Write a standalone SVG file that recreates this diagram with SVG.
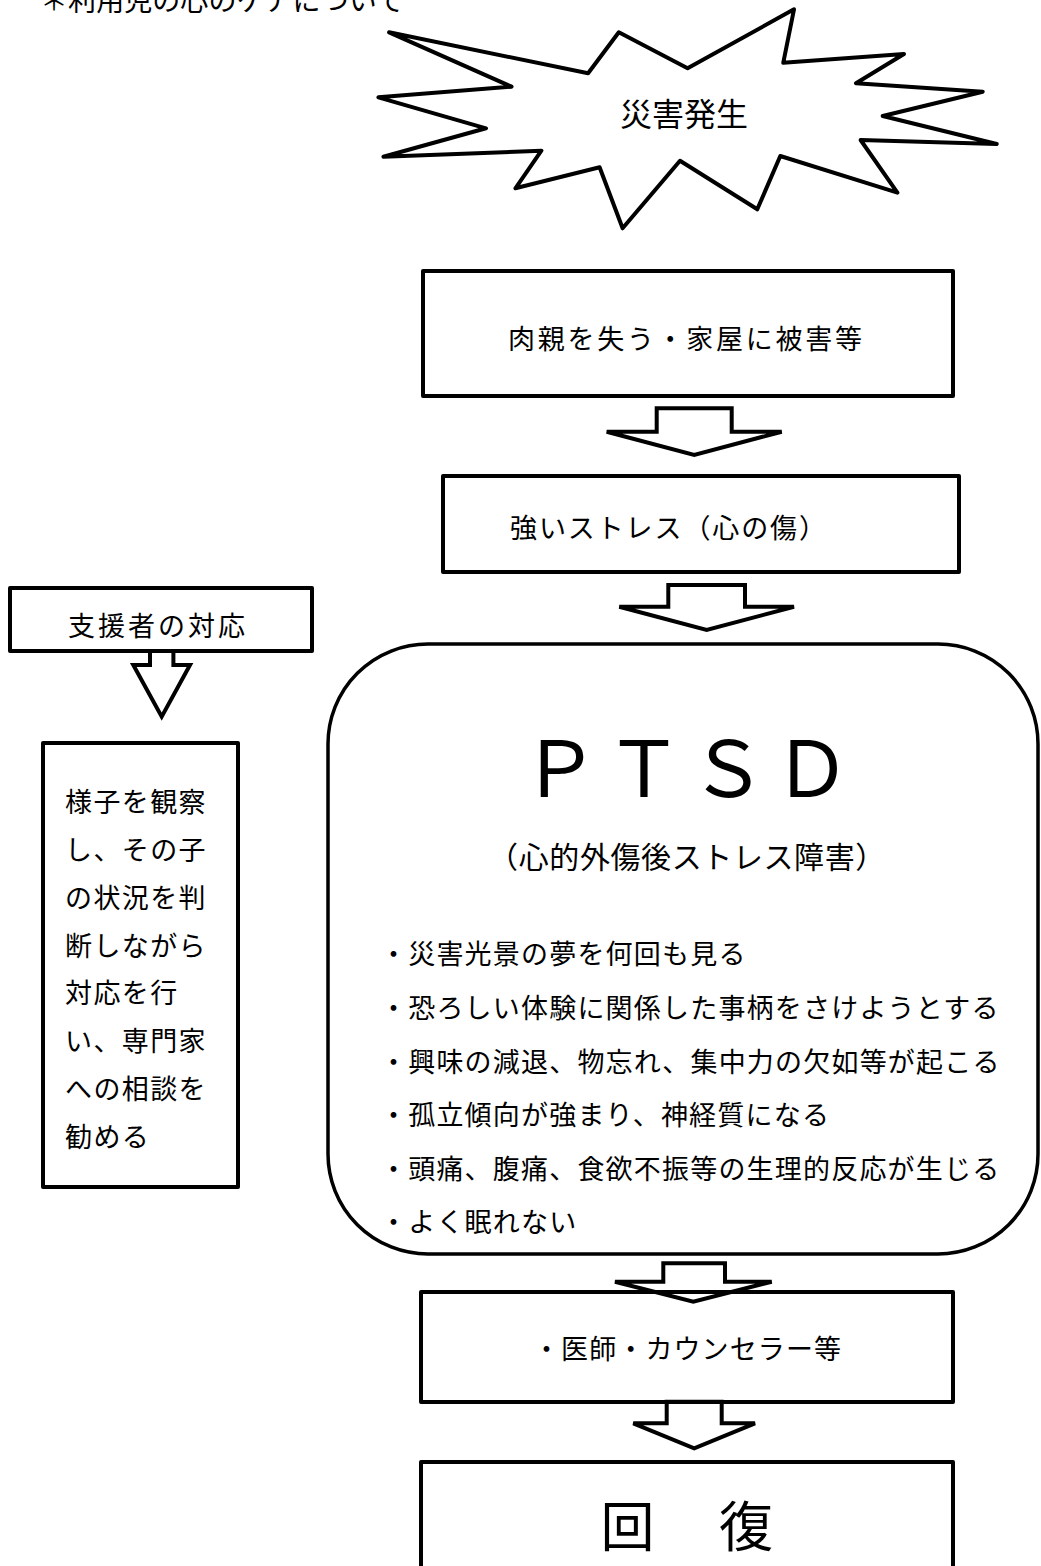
<svg xmlns="http://www.w3.org/2000/svg" width="1041" height="1566" viewBox="0 0 1041 1566">
<style>
.t{font-family:"Noto Sans CJK JP","Noto Sans",sans-serif;fill:#000;dominant-baseline:central}
.box{fill:none;stroke:#000;stroke-width:4;stroke-linejoin:round}
.arr{fill:#fff;stroke:#000;stroke-width:4;stroke-linejoin:miter}
</style>
<rect width="1041" height="1566" fill="#fff"/>
<text class="t" x="40" y="-1" font-size="28" fill="#222" textLength="364" lengthAdjust="spacing">＊利用児の心のケアについて</text>

<g id="connectors">
<path class="arr" d="M656.7,408.3 H731.7 V431.7 H781.7 L694.2,455 L606.7,431.7 H656.7 Z"/>
<path class="arr" d="M668.3,585 H745 V606.7 H794 L706.7,630 L619.3,606.7 H668.3 Z"/>
<path class="arr" d="M663.3,1263.3 H725 V1281.7 H771.7 L693.3,1301.7 L615,1281.7 H663.3 Z"/>
<path class="arr" d="M666.7,1401.7 H721.7 V1423.3 H755 L694.2,1448.3 L633.3,1423.3 H666.7 Z"/>
<path class="arr" d="M150,651 H173.4 V665 H190 L161.7,716.7 L133.3,665 H150 Z"/>
</g>

<g id="disaster">
<polygon class="box" points="389.1,32.3 588.1,73.3 618.8,32.3 687.6,68.3 794,9.3 783.3,62.7 904,54 856,83.3 982.7,91.7 882.7,116 996.7,144 860.6,140 897.4,192.7 780.3,156 757.3,209.3 680,160.7 622.6,228.3 599.6,167.3 515.4,188.3 541.4,150.7 383.4,156.7 486,128.3 378.4,97.3 511.6,86.7"/>
<text class="t" x="684" y="112" font-size="32" text-anchor="middle">災害発生</text>
</g>

<g id="loss">
<rect class="box" x="423" y="271" width="530" height="125"/>
<text class="t" x="508" y="337" font-size="27" textLength="354" lengthAdjust="spacing">肉親を失う・家屋に被害等</text>
</g>

<g id="stress">
<rect class="box" x="443" y="476" width="516" height="96"/>
<text class="t" x="510" y="526" font-size="27" textLength="316" lengthAdjust="spacing">強いストレス（心の傷）</text>
</g>

<g id="supporter">
<rect class="box" x="10" y="588" width="302" height="63"/>
<text class="t" x="68" y="624" font-size="27" textLength="177" lengthAdjust="spacing">支援者の対応</text>
</g>

<g id="support-action">
<rect class="box" x="43" y="743" width="195" height="444"/>
<g class="t" font-size="27" letter-spacing="1.4">
<text class="t" x="65" y="800">様子を観察</text>
<text class="t" x="65" y="848">し、その子</text>
<text class="t" x="65" y="896">の状況を判</text>
<text class="t" x="65" y="944">断しながら</text>
<text class="t" x="65" y="991">対応を行</text>
<text class="t" x="65" y="1039">い、専門家</text>
<text class="t" x="65" y="1087">への相談を</text>
<text class="t" x="65" y="1135">勧める</text>
</g>
</g>

<g id="ptsd">
<rect x="328" y="644" width="710" height="610" rx="100" ry="100" fill="none" stroke="#000" stroke-width="3.5"/>
<text class="t" x="560 644 728 812" y="763" font-size="78" text-anchor="middle">ＰＴＳＤ</text>
<text class="t" x="687" y="855" font-size="30" text-anchor="middle" letter-spacing="0.6">（心的外傷後ストレス障害）</text>
<g font-size="27" letter-spacing="1.2">
<text class="t" x="380" y="952">・災害光景の夢を何回も見る</text>
<text class="t" x="380" y="1006">・恐ろしい体験に関係した事柄をさけようとする</text>
<text class="t" x="380" y="1060">・興味の減退、物忘れ、集中力の欠如等が起こる</text>
<text class="t" x="380" y="1113">・孤立傾向が強まり、神経質になる</text>
<text class="t" x="380" y="1167">・頭痛、腹痛、食欲不振等の生理的反応が生じる</text>
<text class="t" x="380" y="1220">・よく眠れない</text>
</g>
</g>

<g id="professional">
<rect class="box" x="421" y="1292" width="532" height="110"/>
<text class="t" x="533" y="1347" font-size="27" letter-spacing="1.1">・医師・カウンセラー等</text>
</g>

<g id="recovery">
<rect class="box" x="421" y="1462" width="532" height="140"/>
<text class="t" x="627.5 746" y="1523" font-size="54" text-anchor="middle">回復</text>
</g>
</svg>
